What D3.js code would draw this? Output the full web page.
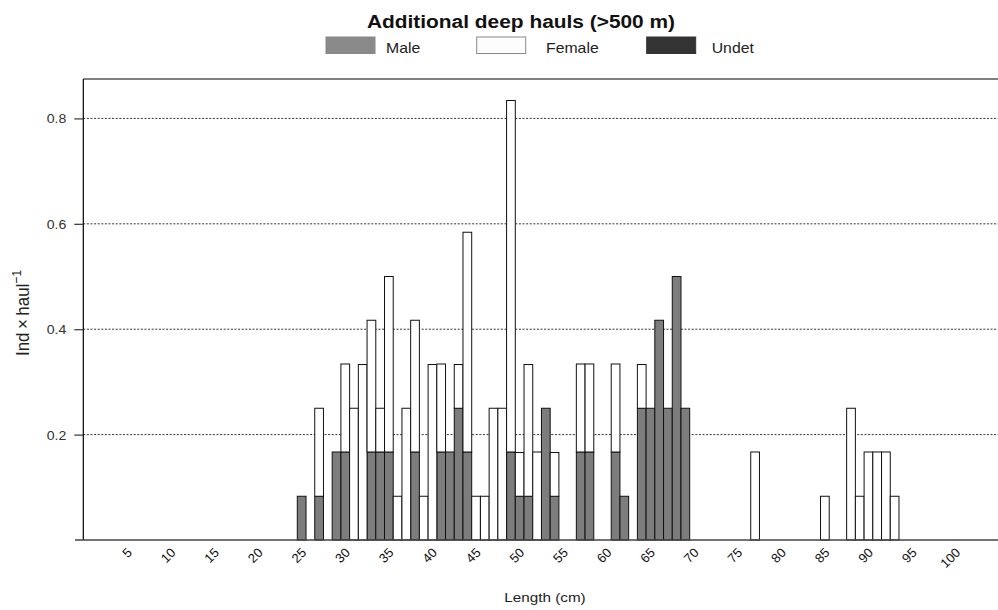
<!DOCTYPE html>
<html>
<head>
<meta charset="utf-8">
<script src="https://cdn.jsdelivr.net/npm/d3@7"></script>
<style>
  html, body { margin: 0; padding: 0; background: #fff; }
  svg { display: block; font-family: "Liberation Sans", Arial, sans-serif; }
</style>
</head>
<body>
<svg id="chart" width="998" height="610"></svg>
<script>
// Length classes (cm) with catches, and individuals per haul by sex
const lengths = [25, 27, 29, 30, 31, 32, 33, 34, 35, 36, 37, 38, 39, 40, 41, 42, 43, 44, 45, 46, 47, 48, 49, 50,
                 51, 52, 53, 54, 57, 58, 61, 62, 64, 65, 66, 67, 68, 69, 77, 85, 88, 89, 90, 91, 92, 93];
const male   = [0.083, 0.083, 0.167, 0.167, 0, 0, 0.167, 0.167, 0.167, 0, 0, 0.167, 0, 0, 0.167, 0.167, 0.25, 0.167, 0, 0, 0, 0, 0.167, 0.083,
                0.083, 0, 0.25, 0.083, 0.167, 0.167, 0.167, 0.083, 0.25, 0.25, 0.417, 0.25, 0.5, 0.25, 0, 0, 0, 0, 0, 0, 0, 0];
const female = [0, 0.167, 0, 0.167, 0.25, 0.333, 0.25, 0.083, 0.333, 0.083, 0.25, 0.25, 0.083, 0.333, 0.167, 0, 0.083, 0.417, 0.083, 0.083, 0.25, 0.25, 0.667, 0.083,
                0.25, 0.167, 0, 0.083, 0.167, 0.167, 0.167, 0, 0.083, 0, 0, 0, 0, 0, 0.167, 0.083, 0.25, 0.083, 0.167, 0.167, 0.167, 0.083];
const undet  = [0, 0, 0, 0, 0, 0, 0, 0, 0, 0, 0, 0, 0, 0, 0, 0, 0, 0, 0, 0, 0, 0, 0, 0,
                0, 0, 0, 0, 0, 0, 0, 0, 0, 0, 0, 0, 0, 0, 0, 0, 0, 0, 0, 0, 0, 0];
const seriesNames = ["Male", "Female", "Undet"];
const seriesColors = ["#7d7d7d", "#ffffff", "#333333"];
const xTickLabels = [5, 10, 15, 20, 25, 30, 35, 40, 45, 50, 55, 60, 65, 70, 75, 80, 85, 90, 95, 100];
const yTickLabels = [0.2, 0.4, 0.6, 0.8];
const title = "Additional deep hauls (>500 m)";

const svg = d3.select("#chart");
const SX = 1.13; // horizontal text stretch

const plotLeft = 83.3, plotTop = 79, plotBottom = 540, plotRight = 998;

// Each length class occupies [L, L+1)
const x = d3.scaleLinear().domain([0, 100]).range([79.3, 951.3]);
const y = d3.scaleLinear().domain([0, 0.8748]).range([plotBottom, plotTop]);

const rows = lengths.map((L, i) => ({ L, Male: male[i], Female: female[i], Undet: undet[i] }));
const stacked = d3.stack().keys(seriesNames)(rows);

// dotted grid lines
svg.append("g").selectAll("line").data(yTickLabels).join("line")
  .attr("x1", plotLeft).attr("x2", plotRight)
  .attr("y1", d => y(d)).attr("y2", d => y(d))
  .attr("stroke", "#333").attr("stroke-width", 1)
  .attr("stroke-dasharray", "2,1.6");

// stacked bars
svg.append("g").selectAll("g").data(stacked).join("g")
  .attr("fill", (d, i) => seriesColors[i])
  .selectAll("rect").data(d => d.filter(s => s[1] - s[0] > 0)).join("rect")
  .attr("x", d => x(d.data.L))
  .attr("width", d => x(d.data.L + 1) - x(d.data.L))
  .attr("y", d => y(d[1]))
  .attr("height", d => y(d[0]) - y(d[1]))
  .attr("stroke", "#111").attr("stroke-width", 1);

// frame: top, left, bottom
svg.append("line").attr("x1", plotLeft).attr("x2", plotRight).attr("y1", plotTop).attr("y2", plotTop)
  .attr("stroke", "#555").attr("stroke-width", 1.5);
svg.append("line").attr("x1", plotLeft).attr("x2", plotLeft).attr("y1", plotTop).attr("y2", plotBottom)
  .attr("stroke", "#000").attr("stroke-width", 1.2);
svg.append("line").attr("x1", 75).attr("x2", plotRight).attr("y1", plotBottom).attr("y2", plotBottom)
  .attr("stroke", "#444").attr("stroke-width", 1.5);

// y axis
const yAxis = svg.append("g").attr("transform", `translate(${plotLeft},0)`)
  .call(d3.axisLeft(y).tickValues(yTickLabels).tickSize(9).tickPadding(0).tickFormat(d3.format(".1f")));
yAxis.select(".domain").remove();
yAxis.selectAll(".tick line").attr("stroke", "#333").attr("stroke-width", 1.2);
yAxis.selectAll(".tick text")
  .attr("x", null).attr("dy", null)
  .attr("text-anchor", "end")
  .attr("font-size", 12.5).attr("fill", "#333")
  .attr("font-family", "'Liberation Sans', Arial, sans-serif")
  .attr("transform", `translate(-17,4.5) scale(${SX},1)`);

// x axis labels, rotated
const xAxis = svg.append("g").attr("transform", `translate(0,${plotBottom})`)
  .call(d3.axisBottom(x).tickValues(xTickLabels.map(v => v + 0.5)).tickSize(0)
    .tickFormat((d, i) => xTickLabels[i]));
xAxis.select(".domain").remove();
xAxis.selectAll(".tick text")
  .attr("y", null).attr("dy", null)
  .attr("text-anchor", "end")
  .attr("font-size", 13).attr("fill", "#111")
  .attr("font-family", "'Liberation Sans', Arial, sans-serif")
  .attr("transform", "translate(5,13.5) rotate(-45)");

// axis titles
svg.append("text")
  .attr("transform", `translate(545,602) scale(${SX},1)`)
  .attr("text-anchor", "middle").attr("font-size", 13.5).attr("fill", "#222")
  .text("Length (cm)");

const yl = svg.append("text")
  .attr("transform", `translate(29,313) scale(${SX},1) rotate(-90)`)
  .attr("text-anchor", "middle").attr("font-size", 17).attr("fill", "#222");
yl.append("tspan").text("Ind\u2009\u00d7\u2009haul");
yl.append("tspan").attr("dy", -7).attr("font-size", 12).text("\u22121");

// title
svg.append("text")
  .attr("transform", `translate(521,28) scale(${SX},1)`)
  .attr("text-anchor", "middle").attr("font-size", 18.5).attr("font-weight", "bold").attr("fill", "#111")
  .text(title);

// legend
const legendX = [326, 476.7, 646.7];
const legendTextX = [386, 546, 711.7];
const lg = svg.append("g");
seriesNames.forEach((name, i) => {
  lg.append("rect")
    .attr("x", legendX[i]).attr("y", 37).attr("width", 49).attr("height", 16.5)
    .attr("fill", i === 0 ? "#8a8a8a" : i === 1 ? "#fdfdfd" : seriesColors[i])
    .attr("stroke", i === 2 ? "#333" : "#888").attr("stroke-width", 1);
  lg.append("text")
    .attr("transform", `translate(${legendTextX[i]},52.5) scale(${SX},1)`)
    .attr("font-size", 14).attr("fill", "#222")
    .text(name);
});
</script>
</body>
</html>
